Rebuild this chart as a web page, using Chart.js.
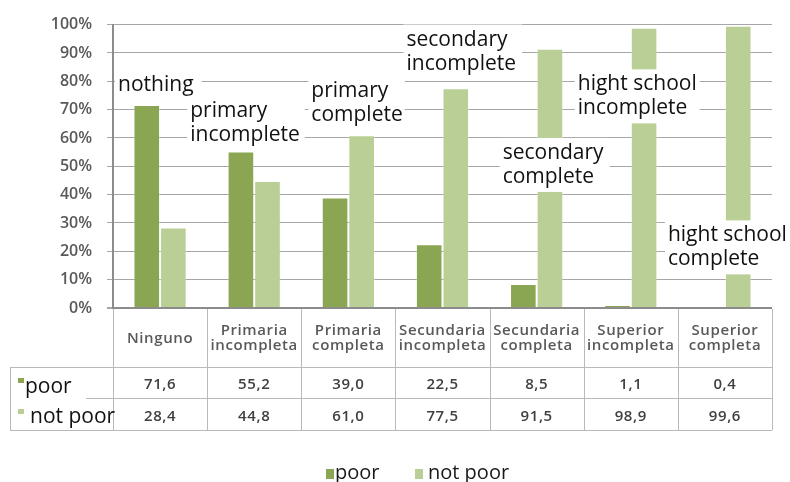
<!DOCTYPE html>
<html>
<head>
<meta charset="utf-8">
<script src="https://cdn.jsdelivr.net/npm/chart.js@4/dist/chart.umd.min.js"></script>
<style>
html,body{margin:0;padding:0;background:#ffffff;}
#wrap{width:790px;height:482px;position:relative;}
</style>
</head>
<body>
<div id="wrap"><canvas id="c" width="790" height="482"></canvas></div>
<script>
// ---- data ----
const categories = ['Ninguno', 'Primaria incompleta', 'Primaria completa', 'Secundaria incompleta', 'Secundaria completa', 'Superior incompleta', 'Superior completa'];
const seriesNames = ['poor', 'not poor'];
const poorValues = [71.6, 55.2, 39.0, 22.5, 8.5, 1.1, 0.4];
const notPoorValues = [28.4, 44.8, 61.0, 77.5, 91.5, 98.9, 99.6];
const yTickLabels = ['0%', '10%', '20%', '30%', '40%', '50%', '60%', '70%', '80%', '90%', '100%'];
const annotationTexts = [
  ['nothing'],
  ['primary', 'incomplete'],
  ['primary', 'complete'],
  ['secondary', 'incomplete'],
  ['secondary', 'complete'],
  ['hight school', 'incomplete'],
  ['hight school', 'complete']
];

// ---- styles ----
const FONT = '"Open Sans", "DejaVu Sans", sans-serif';
const POOR_COLOR = '#8aa652';
const NOTPOOR_COLOR = '#b9cf95';
const GRID_COLOR = '#a6a6a6';
const AXIS_COLOR = '#8c8c8c';
const TABLE_COLOR = '#b9b9b9';

// annotation anchors: category index, x offset from category centre, value for first baseline
const annotationAnchors = [
  {cat: 0, dx: -42, v: 76.5, padR: 8},
  {cat: 1, dx: -64, v: 67.5, padR: 5},
  {cat: 2, dx: -37, v: 74.4, padR: 2},
  {cat: 3, dx: -36, v: 92.6, padR: 6},
  {cat: 4, dx: -34, v: 52.6, padR: 6},
  {cat: 5, dx: -53, v: 76.8, padR: 3},
  {cat: 6, dx: -57, v: 23.5, padR: 3}
];

const overlayPlugin = {
  id: 'overlay',
  afterDatasetsDraw(chart) {
    const ctx = chart.ctx;
    const xs = chart.scales.x, ys = chart.scales.y;
    ctx.save();
    ctx.font = '400 21px ' + FONT;
    ctx.textBaseline = 'alphabetic';
    ctx.textAlign = 'left';
    const lh = 24;
    annotationTexts.forEach((lines, i) => {
      const a = annotationAnchors[i];
      const x = xs.getPixelForValue(a.cat) + a.dx;
      const y = ys.getPixelForValue(a.v);
      let w = 0;
      lines.forEach(t => { w = Math.max(w, ctx.measureText(t).width); });
      ctx.fillStyle = '#ffffff';
      ctx.fillRect(x - 3, y - 21, w + 3 + a.padR, (lines.length - 1) * lh + 30);
      ctx.fillStyle = '#111111';
      lines.forEach((t, k) => ctx.fillText(t, x, y + k * lh));
    });
    ctx.restore();
  },
  afterDraw(chart) {
    const ctx = chart.ctx;
    const xs = chart.scales.x;
    const ca = chart.chartArea;
    const n = categories.length;
    const cw = (ca.right - ca.left) / n;
    const top = ca.bottom;
    const hdrB = top + 59;
    const r1B = hdrB + 31;
    const r2B = r1B + 32;
    const leftCol = 10;
    const px = v => Math.round(v) + 0.5;
    ctx.save();
    // table lines
    ctx.strokeStyle = TABLE_COLOR;
    ctx.lineWidth = 1;
    ctx.beginPath();
    for (let i = 0; i <= n; i++) {
      const x = px(ca.left + i * cw);
      ctx.moveTo(x, top + 1);
      ctx.lineTo(x, r2B);
    }
    [hdrB, r1B, r2B].forEach(y => {
      ctx.moveTo(leftCol, px(y));
      ctx.lineTo(ca.right, px(y));
    });
    ctx.moveTo(px(leftCol), hdrB);
    ctx.lineTo(px(leftCol), r2B);
    ctx.stroke();

    // header labels
    ctx.fillStyle = '#595959';
    ctx.font = '600 15px ' + FONT;
    ctx.textAlign = 'center';
    ctx.textBaseline = 'alphabetic';
    try { ctx.letterSpacing = '0.6px'; } catch (e) {}
    const hc = (top + hdrB) / 2;
    categories.forEach((c, i) => {
      const lines = c.split(' ');
      const cx = xs.getPixelForValue(i);
      lines.forEach((t, k) => {
        ctx.fillText(t, cx, hc + 5.4 + (k - (lines.length - 1) / 2) * 15);
      });
    });
    // values
    ctx.fillStyle = '#404040';
    const fmt = v => v.toFixed(1).replace('.', ',');
    const rows = [[poorValues, (hdrB + r1B) / 2], [notPoorValues, (r1B + r2B) / 2]];
    rows.forEach(([vals, cy]) => {
      vals.forEach((v, i) => {
        ctx.fillText(fmt(v), xs.getPixelForValue(i), cy + 6.5);
      });
    });
    try { ctx.letterSpacing = '0px'; } catch (e) {}

    // row labels
    ctx.fillStyle = '#ffffff';
    ctx.fillRect(leftCol + 1, hdrB + 2, 75, r1B - hdrB + 1);
    ctx.textAlign = 'left';
    ctx.font = '400 21px ' + FONT;
    ctx.fillStyle = POOR_COLOR;
    ctx.fillRect(18, hdrB + 11, 6, 5);
    ctx.fillStyle = '#111111';
    ctx.fillText(seriesNames[0], 25, (hdrB + r1B) / 2 + 10.5);
    ctx.fillStyle = NOTPOOR_COLOR;
    ctx.fillRect(18, r1B + 11, 6, 5);
    ctx.fillStyle = '#111111';
    ctx.fillText(seriesNames[1], 30, (r1B + r2B) / 2 + 9);

    // legend
    ctx.font = '400 20px ' + FONT;
    ctx.fillStyle = POOR_COLOR;
    ctx.fillRect(326, 469, 8, 10);
    ctx.fillStyle = '#1a1a1a';
    ctx.fillText(seriesNames[0], 335, 479);
    ctx.fillStyle = NOTPOOR_COLOR;
    ctx.fillRect(415, 469, 8, 10);
    ctx.fillStyle = '#1a1a1a';
    ctx.fillText(seriesNames[1], 428, 479);
    ctx.restore();
  }
};

new Chart(document.getElementById('c'), {
  type: 'bar',
  data: {
    labels: categories,
    datasets: [
      {label: seriesNames[0], data: poorValues, backgroundColor: POOR_COLOR, borderColor: 'rgba(255,255,255,0.25)', borderWidth: 1},
      {label: seriesNames[1], data: notPoorValues, backgroundColor: NOTPOOR_COLOR, borderColor: 'rgba(255,255,255,0.25)', borderWidth: 1}
    ]
  },
  options: {
    responsive: false,
    animation: false,
    devicePixelRatio: 1,
    layout: {padding: {top: 23, right: 18, bottom: 174, left: 0}},
    datasets: {bar: {categoryPercentage: 0.565, barPercentage: 1.0}},
    plugins: {legend: {display: false}, tooltip: {enabled: false}},
    scales: {
      x: {display: false},
      y: {
        min: 0, max: 100,
        afterFit(s) { s.width = 113; },
        ticks: {
          stepSize: 10,
          callback: (v, i) => yTickLabels[i],
          font: {family: FONT, size: 16, weight: '600'},
          color: '#595959',
          padding: 15
        },
        grid: {
          color: c => (c.tick && c.tick.value === 0) ? AXIS_COLOR : GRID_COLOR,
          lineWidth: c => (c.tick && c.tick.value === 0) ? 2 : 1,
          tickLength: 6,
          tickColor: GRID_COLOR
        },
        border: {color: AXIS_COLOR, width: 2}
      }
    }
  },
  plugins: [overlayPlugin]
});
</script>
</body>
</html>
